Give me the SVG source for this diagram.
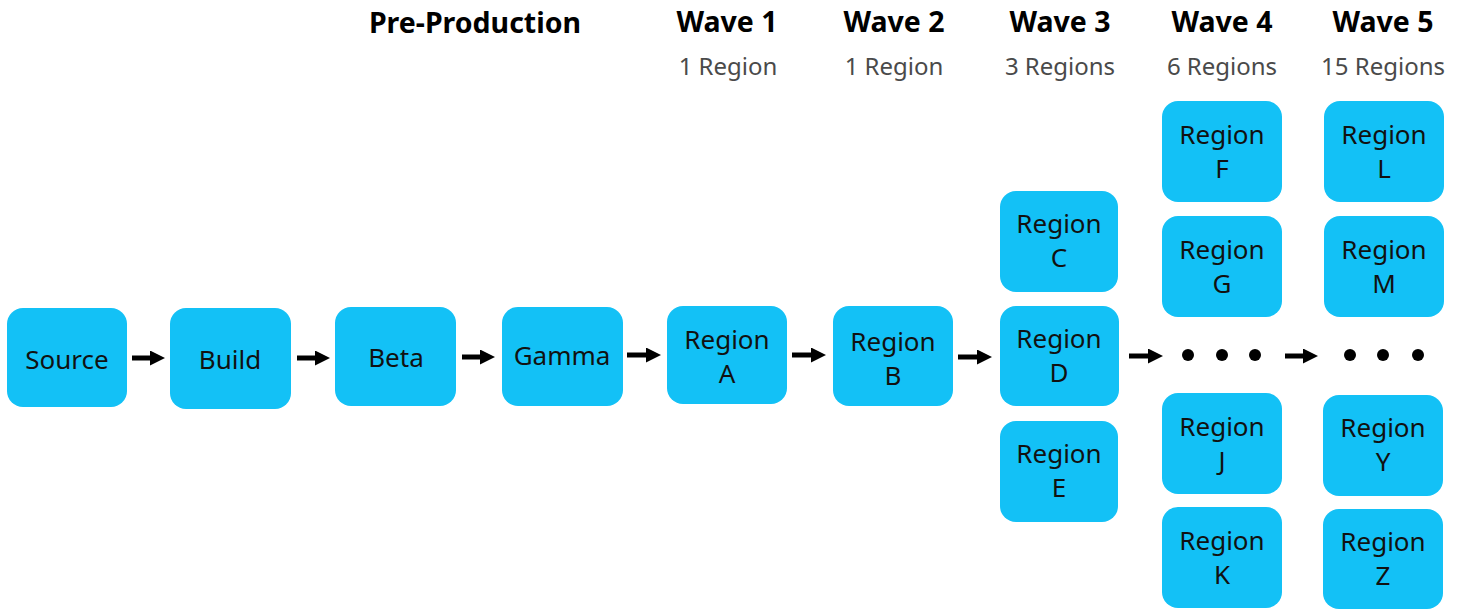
<svg xmlns="http://www.w3.org/2000/svg" width="1462" height="610" viewBox="0 0 1462 610">
<defs>
<marker id="ah" viewBox="0 0 15 15" refX="1" refY="7.5" markerWidth="15" markerHeight="15" markerUnits="userSpaceOnUse" orient="auto">
<path d="M0,0 L15,7.5 L0,15 Z" fill="#000"/>
</marker>
</defs>
<style>
.box{fill:#13C1F6}
.t{font-family:"Noto Sans","Open Sans",sans-serif;font-size:26px;fill:#111;text-anchor:middle}
.h{font-family:"Noto Sans","Open Sans",sans-serif;font-size:28.5px;font-weight:bold;fill:#000;text-anchor:middle}
.s{font-family:"Noto Sans","Open Sans",sans-serif;font-size:24px;fill:#4a4a4a;text-anchor:middle}
.c{stroke:#000;stroke-width:5;fill:none}
.dot{fill:#000}
</style>
<rect width="1462" height="610" fill="#fff"/>
<g id="headers">
<text class="h" x="475" y="33">Pre-Production</text>
<text class="h" x="727" y="32">Wave 1</text>
<text class="s" x="728" y="75">1 Region</text>
<text class="h" x="894" y="32">Wave 2</text>
<text class="s" x="894" y="75">1 Region</text>
<text class="h" x="1060" y="32">Wave 3</text>
<text class="s" x="1060" y="75">3 Regions</text>
<text class="h" x="1222" y="32">Wave 4</text>
<text class="s" x="1222" y="75">6 Regions</text>
<text class="h" x="1383" y="32">Wave 5</text>
<text class="s" x="1383" y="75">15 Regions</text>
</g>
<g id="connectors">
<line class="c" x1="132" y1="358" x2="151" y2="358" marker-end="url(#ah)"/>
<line class="c" x1="297" y1="358" x2="316" y2="358" marker-end="url(#ah)"/>
<line class="c" x1="462" y1="357" x2="481" y2="357" marker-end="url(#ah)"/>
<line class="c" x1="627" y1="355" x2="647" y2="355" marker-end="url(#ah)"/>
<line class="c" x1="792" y1="355" x2="812" y2="355" marker-end="url(#ah)"/>
<line class="c" x1="958" y1="357" x2="978" y2="357" marker-end="url(#ah)"/>
<line class="c" x1="1129" y1="356" x2="1149" y2="356" marker-end="url(#ah)"/>
<line class="c" x1="1285" y1="356" x2="1304" y2="356" marker-end="url(#ah)"/>
</g>
<g id="source"><rect class="box" x="7" y="308" width="120" height="99" rx="16"/><text class="t" x="67" y="369">Source</text></g>
<g id="build"><rect class="box" x="170" y="308" width="121" height="101" rx="16"/><text class="t" x="230" y="369">Build</text></g>
<g id="beta"><rect class="box" x="335" y="307" width="121" height="99" rx="16"/><text class="t" x="396" y="367">Beta</text></g>
<g id="gamma"><rect class="box" x="502" y="307" width="121" height="99" rx="16"/><text class="t" x="562" y="365">Gamma</text></g>
<g id="regionA"><rect class="box" x="667" y="306" width="120" height="98" rx="16"/><text class="t" x="727" y="349">Region</text><text class="t" x="727" y="383">A</text></g>
<g id="regionB"><rect class="box" x="833" y="306" width="120" height="100" rx="16"/><text class="t" x="893" y="351">Region</text><text class="t" x="893" y="385">B</text></g>
<g id="regionC"><rect class="box" x="1000" y="191" width="118" height="101" rx="16"/><text class="t" x="1059" y="233">Region</text><text class="t" x="1059" y="267">C</text></g>
<g id="regionD"><rect class="box" x="1000" y="306" width="119" height="100" rx="16"/><text class="t" x="1059" y="348">Region</text><text class="t" x="1059" y="382">D</text></g>
<g id="regionE"><rect class="box" x="1000" y="421" width="118" height="101" rx="16"/><text class="t" x="1059" y="463">Region</text><text class="t" x="1059" y="497">E</text></g>
<g id="regionF"><rect class="box" x="1162" y="101" width="120" height="101" rx="16"/><text class="t" x="1222" y="144">Region</text><text class="t" x="1222" y="178">F</text></g>
<g id="regionG"><rect class="box" x="1162" y="216" width="120" height="101" rx="16"/><text class="t" x="1222" y="259">Region</text><text class="t" x="1222" y="293">G</text></g>
<g id="wave4dots"><circle class="dot" cx="1188" cy="355" r="6"/><circle class="dot" cx="1222" cy="355" r="6"/><circle class="dot" cx="1255" cy="355" r="6"/></g>
<g id="regionJ"><rect class="box" x="1162" y="393" width="120" height="101" rx="16"/><text class="t" x="1222" y="436">Region</text><text class="t" x="1222" y="470">J</text></g>
<g id="regionK"><rect class="box" x="1162" y="507" width="120" height="101" rx="16"/><text class="t" x="1222" y="550">Region</text><text class="t" x="1222" y="584">K</text></g>
<g id="regionL"><rect class="box" x="1324" y="101" width="120" height="101" rx="16"/><text class="t" x="1384" y="144">Region</text><text class="t" x="1384" y="178">L</text></g>
<g id="regionM"><rect class="box" x="1324" y="216" width="120" height="101" rx="16"/><text class="t" x="1384" y="259">Region</text><text class="t" x="1384" y="293">M</text></g>
<g id="wave5dots"><circle class="dot" cx="1350" cy="355" r="6"/><circle class="dot" cx="1383" cy="355" r="6"/><circle class="dot" cx="1418" cy="355" r="6"/></g>
<g id="regionY"><rect class="box" x="1323" y="395" width="120" height="101" rx="16"/><text class="t" x="1383" y="437">Region</text><text class="t" x="1383" y="471">Y</text></g>
<g id="regionZ"><rect class="box" x="1323" y="509" width="120" height="100" rx="16"/><text class="t" x="1383" y="551">Region</text><text class="t" x="1383" y="585">Z</text></g>
</svg>
